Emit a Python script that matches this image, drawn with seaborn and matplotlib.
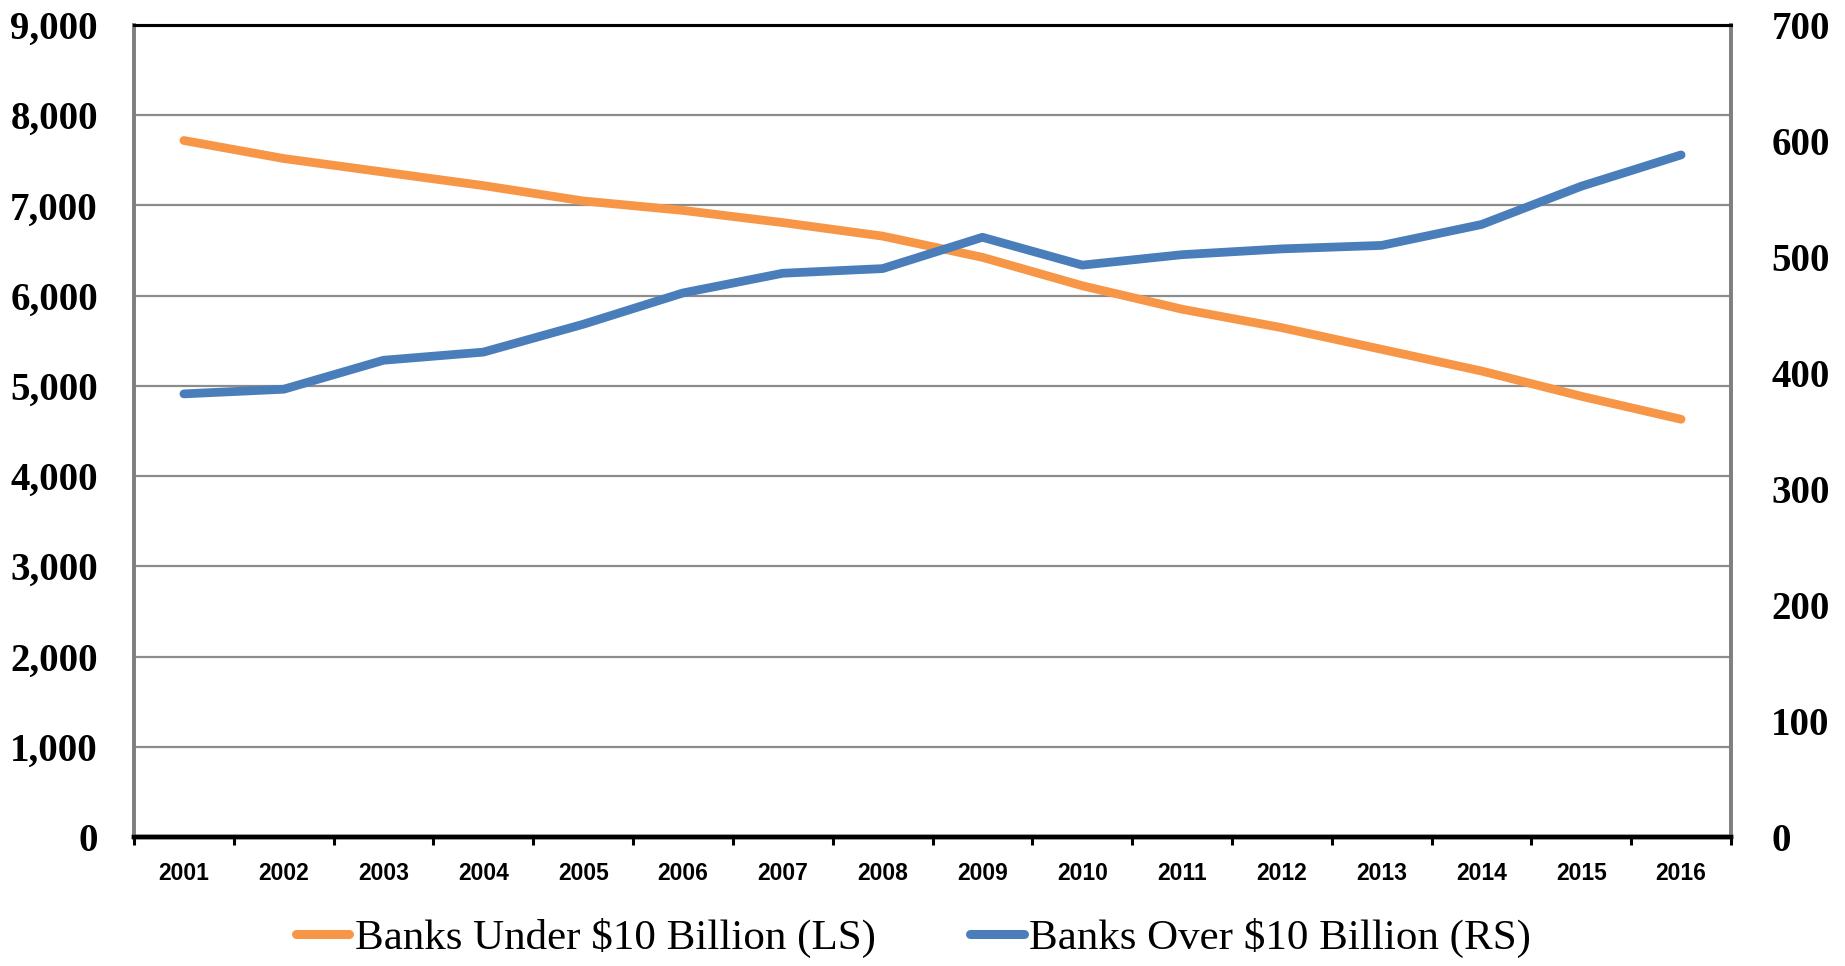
import matplotlib
matplotlib.use("Agg")
import matplotlib.pyplot as plt
from matplotlib.ticker import FixedLocator, FuncFormatter, NullFormatter
import seaborn as sns
import pandas as pd

# Bank counts by year
years = [2001, 2002, 2003, 2004, 2005, 2006, 2007, 2008,
         2009, 2010, 2011, 2012, 2013, 2014, 2015, 2016]
banks_under_10b = [7720, 7520, 7370, 7220, 7050, 6945, 6810, 6660,
                   6425, 6110, 5850, 5645, 5405, 5165, 4885, 4630]
banks_over_10b = [382, 386, 411, 418, 442, 469, 486, 490,
                  517, 493, 502, 507, 510, 528, 561, 588]

label_under = "Banks Under $10 Billion (LS)"
label_over = "Banks Over $10 Billion (RS)"

left_ticks = [0, 1000, 2000, 3000, 4000, 5000, 6000, 7000, 8000, 9000]
right_ticks = [0, 100, 200, 300, 400, 500, 600, 700]

df = pd.DataFrame({"year": years, "under": banks_under_10b, "over": banks_over_10b})

sns.set_style("white")
plt.rcParams["font.family"] = ["Liberation Serif", "DejaVu Serif"]
plt.rcParams["text.color"] = "black"
plt.rcParams["xtick.color"] = "black"
plt.rcParams["ytick.color"] = "black"
plt.rcParams["xtick.labelcolor"] = "black"
plt.rcParams["ytick.labelcolor"] = "black"

ORANGE = "#F79646"
BLUE = "#4A7EBB"

fig = plt.figure(figsize=(18.45, 9.66), dpi=100)
ax = fig.add_axes([134 / 1845, 1 - 837 / 966, (1731 - 134) / 1845, (837 - 25) / 966])
ax2 = ax.twinx()

sns.lineplot(data=df, x="year", y="under", ax=ax, color=ORANGE, linewidth=6.3,
             label=label_under, legend=False, solid_capstyle="round", zorder=3)
sns.lineplot(data=df, x="year", y="over", ax=ax2, color=BLUE, linewidth=6.3,
             label=label_over, legend=False, solid_capstyle="round", zorder=3)

# x axis: tick marks between years, labels centred on each year
ax.set_xlim(years[0] - 0.5, years[-1] + 0.5)
ax.xaxis.set_major_locator(FixedLocator([y - 0.5 for y in years] + [years[-1] + 0.5]))
ax.xaxis.set_major_formatter(NullFormatter())
ax.xaxis.set_minor_locator(FixedLocator(years))
ax.xaxis.set_minor_formatter(FuncFormatter(lambda v, p: f"{int(round(v))}"))
ax.tick_params(axis="x", which="major", direction="out", length=6, width=2.2,
               color="black", bottom=True)
ax.tick_params(axis="x", which="minor", length=0, pad=18, bottom=True)
for lbl in ax.xaxis.get_minorticklabels():
    lbl.set_fontfamily(["Liberation Sans", "DejaVu Sans"])
    lbl.set_fontweight("bold")
    lbl.set_fontsize(16.5)

# left axis
ax.set_ylim(0, 9000)
ax.yaxis.set_major_locator(FixedLocator(left_ticks))
ax.yaxis.set_major_formatter(FuncFormatter(lambda v, p: f"{int(v):,}"))
ax.tick_params(axis="y", length=0, pad=26, labelsize=28)
for lbl in ax.get_yticklabels():
    lbl.set_fontweight("bold")
ax.grid(True, axis="y", color="#8C8C8C", linewidth=1.6)
ax.grid(False, axis="x")
ax.set_axisbelow(True)
ax.set_xlabel("")
ax.set_ylabel("")

# right axis
ax2.set_ylim(0, 700)
ax2.yaxis.set_major_locator(FixedLocator(right_ticks))
ax2.yaxis.set_major_formatter(FuncFormatter(lambda v, p: f"{int(v)}"))
ax2.tick_params(axis="y", length=0, pad=29, labelsize=28)
for lbl in ax2.get_yticklabels():
    lbl.set_fontweight("bold")
ax2.grid(False)
ax2.set_ylabel("")

# frame
for a in (ax, ax2):
    a.spines["top"].set_color("black")
    a.spines["top"].set_linewidth(2.2)
    a.spines["bottom"].set_color("black")
    a.spines["bottom"].set_linewidth(3.2)
    a.spines["left"].set_color("#7F7F7F")
    a.spines["left"].set_linewidth(2.6)
    a.spines["right"].set_color("#7F7F7F")
    a.spines["right"].set_linewidth(2.6)

# legend below the plot
h1, l1 = ax.get_legend_handles_labels()
h2, l2 = ax2.get_legend_handles_labels()
leg = fig.legend(h1 + h2, l1 + l2, loc="center", bbox_to_anchor=(0.495, 0.029),
                 ncol=2, frameon=False, fontsize=31, handlelength=1.25,
                 handletextpad=0.12, columnspacing=2.2)
for line in leg.get_lines():
    line.set_linewidth(6.5)
    line.set_solid_capstyle("round")
for t in leg.get_texts():
    t.set_color("black")

fig.savefig("out.png", dpi=100)
